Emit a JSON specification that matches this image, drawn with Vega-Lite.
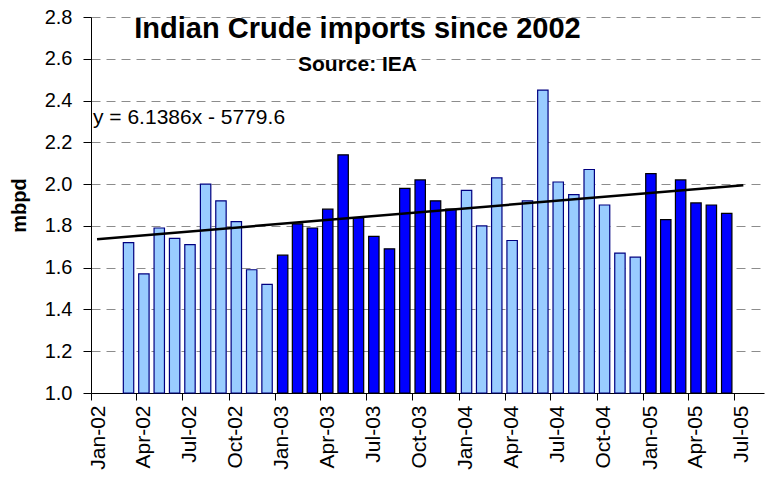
{
  "$schema": "https://vega.github.io/schema/vega-lite/v6.json",
  "width": 673,
  "height": 376,
  "autosize": {"type": "none"},
  "padding": {"left": 91, "top": 17, "right": 2, "bottom": 87},
  "background": "white",
  "config": {"font": "Liberation Sans", "view": {"stroke": null}},
  "title": {
    "text": "Indian Crude imports since 2002",
    "subtitle": "Source: IEA",
    "font": "Liberation Sans",
    "subtitleFont": "Liberation Sans",
    "fontSize": 29,
    "fontWeight": "bold",
    "color": "black",
    "subtitleFontSize": 21,
    "subtitleFontWeight": "bold",
    "subtitleColor": "black",
    "subtitlePadding": 10,
    "anchor": "middle",
    "dx": -70,
    "offset": -68
  },
  "layer": [
    {
      "data": {
        "values": [
          {"month": "2002-03-01", "mbpd": 1.72},
          {"month": "2002-04-01", "mbpd": 1.57},
          {"month": "2002-05-01", "mbpd": 1.79},
          {"month": "2002-06-01", "mbpd": 1.74},
          {"month": "2002-07-01", "mbpd": 1.71},
          {"month": "2002-08-01", "mbpd": 2.0},
          {"month": "2002-09-01", "mbpd": 1.92},
          {"month": "2002-10-01", "mbpd": 1.82},
          {"month": "2002-11-01", "mbpd": 1.59},
          {"month": "2002-12-01", "mbpd": 1.52},
          {"month": "2003-01-01", "mbpd": 1.66},
          {"month": "2003-02-01", "mbpd": 1.81},
          {"month": "2003-03-01", "mbpd": 1.79},
          {"month": "2003-04-01", "mbpd": 1.88},
          {"month": "2003-05-01", "mbpd": 2.14},
          {"month": "2003-06-01", "mbpd": 1.84},
          {"month": "2003-07-01", "mbpd": 1.75},
          {"month": "2003-08-01", "mbpd": 1.69},
          {"month": "2003-09-01", "mbpd": 1.98},
          {"month": "2003-10-01", "mbpd": 2.02},
          {"month": "2003-11-01", "mbpd": 1.92},
          {"month": "2003-12-01", "mbpd": 1.88},
          {"month": "2004-01-01", "mbpd": 1.97},
          {"month": "2004-02-01", "mbpd": 1.8},
          {"month": "2004-03-01", "mbpd": 2.03},
          {"month": "2004-04-01", "mbpd": 1.73},
          {"month": "2004-05-01", "mbpd": 1.92},
          {"month": "2004-06-01", "mbpd": 2.45},
          {"month": "2004-07-01", "mbpd": 2.01},
          {"month": "2004-08-01", "mbpd": 1.95},
          {"month": "2004-09-01", "mbpd": 2.07},
          {"month": "2004-10-01", "mbpd": 1.9},
          {"month": "2004-11-01", "mbpd": 1.67},
          {"month": "2004-12-01", "mbpd": 1.65},
          {"month": "2005-01-01", "mbpd": 2.05},
          {"month": "2005-02-01", "mbpd": 1.83},
          {"month": "2005-03-01", "mbpd": 2.02},
          {"month": "2005-04-01", "mbpd": 1.91},
          {"month": "2005-05-01", "mbpd": 1.9},
          {"month": "2005-06-01", "mbpd": 1.86}
        ]
      },
      "mark": {"type": "bar", "width": 10.4, "strokeWidth": 1.2},
      "encoding": {
        "x": {
          "field": "month",
          "type": "temporal",
          "timeUnit": "utcyearmonth",
          "bandPosition": 0.5,
          "scale": {
            "type": "utc",
            "domain": [
              {"year": 2002, "month": 1, "date": 1, "utc": true},
              {"year": 2005, "month": 8, "date": 29, "utc": true}
            ]
          },
          "axis": {
            "title": null,
            "format": "%b-%y",
            "tickCount": {"interval": "month", "step": 3},
            "labelAngle": 270,
            "labelAlign": "right",
            "labelBaseline": "middle",
            "labelFontSize": 21,
            "labelColor": "black",
            "labelPadding": 5,
            "labelOffset": 7,
            "labelOverlap": false,
            "labelFlush": false,
            "labelBound": false,
            "tickSize": 7,
            "tickColor": "black",
            "domainColor": "black",
            "grid": false
          }
        },
        "y": {
          "field": "mbpd",
          "type": "quantitative",
          "scale": {"domain": [1.0, 2.8], "zero": false},
          "axis": {
            "title": "mbpd",
            "titleFontSize": 20,
            "titleFontWeight": "bold",
            "titleColor": "black",
            "titlePadding": 15,
            "values": [1.0, 1.2, 1.4, 1.6, 1.8, 2.0, 2.2, 2.4, 2.6, 2.8],
            "format": ".1f",
            "labelFontSize": 20,
            "labelColor": "black",
            "labelPadding": 11,
            "tickSize": 8,
            "tickColor": "black",
            "domainColor": "black",
            "grid": true,
            "gridColor": "#8c8c8c",
            "gridDash": [9, 6],
            "gridWidth": 1
          }
        },
        "y2": {"datum": 1.0},
        "fill": {
          "field": "month",
          "type": "ordinal",
          "timeUnit": "utcyear",
          "scale": {"range": ["#99CCFF", "#0000FF", "#99CCFF", "#0000FF"]},
          "legend": null
        },
        "stroke": {
          "field": "month",
          "type": "ordinal",
          "timeUnit": "utcyear",
          "scale": {"range": ["#000080", "#000000", "#000080", "#000000"]},
          "legend": null
        }
      }
    },
    {
      "data": {
        "values": [
          {"month": "2002-01-13", "mbpd": 1.736},
          {"month": "2005-07-19", "mbpd": 1.995}
        ]
      },
      "mark": {"type": "line", "color": "black", "strokeWidth": 2.5},
      "encoding": {
        "x": {"field": "month", "type": "temporal", "scale": {"type": "utc"}},
        "y": {"field": "mbpd", "type": "quantitative"}
      }
    },
    {
      "data": {"values": [{"label": "y = 6.1386x - 5779.6"}]},
      "mark": {"type": "text", "align": "left", "baseline": "alphabetic", "fontSize": 21, "color": "black", "dx": 2},
      "encoding": {
        "x": {"datum": {"year": 2002, "month": 1, "date": 1, "utc": true}, "type": "temporal"},
        "y": {"datum": 2.286, "type": "quantitative"},
        "text": {"field": "label"}
      }
    }
  ]
}
